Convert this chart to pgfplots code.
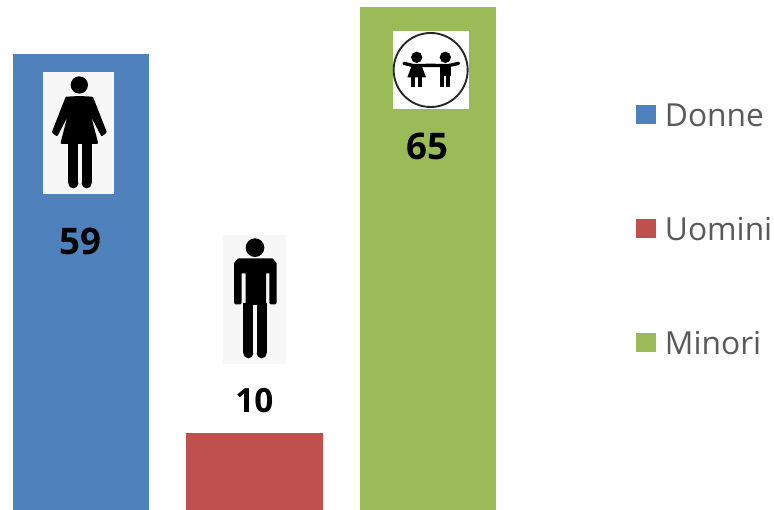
\documentclass[border=0pt]{standalone}
\usepackage{fontspec}
\setmainfont{Open Sans}
\usepackage{pgfplots}
\pgfplotsset{compat=1.18}
\definecolor{cblue}{HTML}{4F81BD}
\definecolor{cred}{HTML}{C0504D}
\definecolor{cgreen}{HTML}{9BBB59}
\definecolor{ctext}{HTML}{595959}
\tikzset{zoomat/.style n args={2}{x=.25pt,y=-.25pt,xshift=#1*.75pt,yshift=(510-#2)*.75pt}}
\begin{document}
\begin{tikzpicture}
\useasboundingbox (0,0) rectangle (580.5pt,382.5pt);
\begin{axis}[
  at={(0,0)},anchor=south west,
  scale only axis,width=580.5pt,height=382.5pt,
  hide axis,clip=false,
  xmin=-0.466,xmax=3.995,ymin=0,ymax=65.95,
  ybar,bar width=102.4pt,
  /pgf/number format/assume math mode=true,
  legend style={draw=none,fill=none,at={(499.5pt,0)},anchor=south west,
    xshift=-25.75pt,yshift=114.5pt,
    font=\fontsize{23.8}{25}\selectfont,text=ctext,
    legend cell align=left,
    row sep=68.5pt,column sep=6.75pt,
    nodes={text height=17pt,text depth=0pt,inner sep=0pt}},
  legend image code/.code={\fill[#1,draw=none] (0,-6.5pt) rectangle (15pt,7.5pt);},
]
\addplot[fill=cblue,draw=none,bar shift=0pt,
  nodes near coords,every node near coord/.style={anchor=center,yshift=-140.5pt,text=black,font=\bfseries\fontsize{27.5}{30}\selectfont}]
  coordinates {(0,59)};
\addlegendentry{Donne}
\addplot[fill=cred,draw=none,bar shift=0pt,
  nodes near coords,every node near coord/.style={anchor=center,yshift=24pt,text=black,font=\bfseries\fontsize{25}{28}\selectfont}]
  coordinates {(1,10)};
\addlegendentry{Uomini}
\addplot[fill=cgreen,draw=none,bar shift=0pt,
  nodes near coords,every node near coord/.style={anchor=center,yshift=-104.25pt,text=black,font=\bfseries\fontsize{27.5}{30}\selectfont}]
  coordinates {(2,65)};
\addlegendentry{Minori}
\end{axis}
% woman icon
\begin{scope}[zoomat={30}{60}]
\fill[black!3] (38,35) rectangle (252,402);
\fill (148,75) circle (26);
\filldraw[line width=2pt,line join=round] (148,112) -- (186,114) -- (226,216) -- (216,224) -- (172,140) -- (200,248) -- (96,248) -- (124,140) -- (80,224) -- (70,216) -- (110,114) -- cycle;
\draw[line width=7.5pt] (130,250) -- (130,370);
\fill (130,370) circle (15);
\draw[line width=7.5pt] (170,250) -- (170,370);
\fill (170,370) circle (15);
\end{scope}
% man icon
\begin{scope}[zoomat={210}{225}]
\fill[black!3] (40,30) rectangle (228,418);
\fill (135,68) circle (28);
\filldraw[line width=2pt,line join=round] (135,104) -- (186,104) -- (196,116) -- (196,234) -- (182,234) -- (182,141) -- (164,141) -- (164,236) -- (111,236) -- (111,141) -- (91,141) -- (91,234) -- (76,234) -- (76,116) -- (86,104) -- cycle;
\draw[line width=7.5pt] (115,235) -- (115,385);
\fill (115,385) circle (15);
\draw[line width=7.5pt] (155,235) -- (155,385);
\fill (155,385) circle (15);
\end{scope}
% children icon
\begin{scope}[zoomat={380}{20}]
\fill[white] (38,32) rectangle (266,266);
\draw[black!85,line width=1.4pt] (152,150) circle (111);
\fill (110,112) circle (17);
\fill (196,112) circle (17);
\draw[line width=2.5pt,line cap=round] (72,130) -- (100,137) -- (152,136) -- (205,137) -- (236,130);
\fill (96,135) -- (124,135) -- (138,172) -- (82,172) -- cycle;
\draw[line width=2.8pt] (99,170) -- (99,200);
\draw[line width=2.8pt] (121,170) -- (121,200);
\fill (180,132) rectangle (212,168);
\draw[line width=2.8pt] (187,165) -- (187,200);
\draw[line width=2.8pt] (205,165) -- (205,200);
\end{scope}
\end{tikzpicture}
\end{document}
